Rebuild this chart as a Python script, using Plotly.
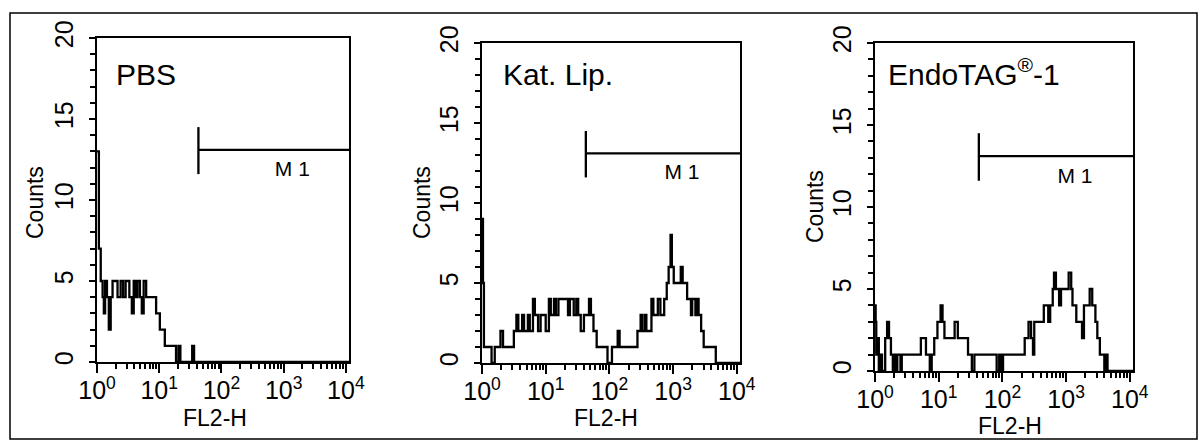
import plotly.graph_objects as go

W, H = 1202, 440

# ---------------- data (x in decades, i.e. log10 of FL2-H; counts) ----------------
pbs_log = [0.00, 0.03, 0.06, 0.09, 0.11, 0.13, 0.16, 0.19, 0.22, 0.25, 0.33, 0.38,
           0.42, 0.46, 0.52, 0.56, 0.59, 0.62, 0.65, 0.69, 0.72, 0.75, 0.79, 0.95,
           1.01, 1.09, 1.27, 1.31, 1.34, 1.53, 1.56, 4.05]
pbs_cnt = [13, 7, 5, 4, 3, 5, 4, 2, 4, 5, 4, 5,
           4, 5, 4, 3, 5, 4, 5, 4, 3, 5, 4, 3,
           2, 1, 0, 1, 0, 1, 0, 0]

kat_log = [0.00, 0.015, 0.03, 0.15, 0.20, 0.29, 0.33, 0.50, 0.54, 0.57, 0.63, 0.66,
           0.72, 0.75, 0.80, 0.83, 0.88, 0.92, 1.00, 1.05, 1.08, 1.13, 1.16, 1.20,
           1.35, 1.38, 1.44, 1.48, 1.51, 1.55, 1.60, 1.68, 1.71, 1.75, 1.80, 1.97,
           2.04, 2.13, 2.16, 2.44, 2.49, 2.52, 2.56, 2.58, 2.66, 2.69, 2.76, 2.80,
           2.86, 2.90, 2.93, 2.96, 2.98, 3.01, 3.12, 3.15, 3.22, 3.28, 3.30, 3.35,
           3.37, 3.40, 3.44, 3.48, 3.67, 4.05]
kat_cnt = [9, 5, 1, 0, 1, 2, 1, 2, 3, 2, 3, 2,
           3, 2, 4, 3, 2, 3, 2, 4, 3, 4, 3, 4,
           3, 4, 3, 4, 3, 2, 3, 4, 3, 2, 1, 0,
           1, 2, 1, 2, 3, 2, 3, 2, 4, 3, 4, 3,
           4, 5, 6, 8, 6, 5, 6, 5, 4, 3, 4, 3,
           4, 3, 2, 1, 0, 0]

endo_log = [0.00, 0.01, 0.02, 0.04, 0.06, 0.09, 0.11, 0.16, 0.19, 0.22, 0.25, 0.28,
            0.30, 0.33, 0.35, 0.40, 0.42, 0.72, 0.80, 0.86, 0.89, 0.93, 0.98, 1.03,
            1.06, 1.09, 1.25, 1.30, 1.46, 1.52, 1.56, 1.91, 1.95, 1.98, 2.01, 2.35,
            2.41, 2.45, 2.48, 2.50, 2.65, 2.72, 2.75, 2.79, 2.81, 2.84, 2.89, 2.92,
            3.04, 3.08, 3.10, 3.16, 3.25, 3.28, 3.37, 3.41, 3.46, 3.49, 3.53, 3.60,
            3.62, 3.65, 4.05]
endo_cnt = [4, 3, 1, 2, 0, 1, 0, 2, 3, 2, 1, 0,
            1, 0, 1, 0, 1, 2, 1, 0, 1, 2, 3, 4,
            3, 2, 3, 2, 1, 0, 1, 0, 1, 0, 1, 2,
            3, 2, 1, 3, 4, 3, 4, 5, 6, 5, 4, 5,
            6, 5, 4, 3, 2, 4, 5, 4, 3, 2, 1, 0,
            1, 0, 0]

panel_titles = ["PBS", "Kat. Lip.", "EndoTAG<sup>®</sup>-1"]
x_tickvals = [1, 10, 100, 1000, 10000]
x_ticktext = ["10<sup>0</sup>", "10<sup>1</sup>", "10<sup>2</sup>", "10<sup>3</sup>", "10<sup>4</sup>"]
y_tickvals = [0, 5, 10, 15, 20]
x_title = "FL2-H"
y_title = "Counts"

gate_start_log = 1.63
gate_level = 13.1
gate_bar_low, gate_bar_high = 11.6, 14.5
gate_label = "M 1"
gate_label_log, gate_label_y = 3.14, 11.8
x_max_log = 4.05

series = [(pbs_log, pbs_cnt), (kat_log, kat_cnt), (endo_log, endo_cnt)]

# ---------------- layout geometry (pixel boxes of the three plot frames) ----------------
boxes = [(97, 349, 38, 362), (482, 740, 43, 363), (875, 1133, 43, 371)]
title_pos = [(114, 74), (501, 75), (886, 72)]
counts_pos = [(35, 203), (422, 203), (815, 207)]
fl2_pos = [(215, 418), (606, 418), (1010, 426)]

def px(x):
    return x / W

def py(y):
    return 1 - y / H

AX_FONT = dict(family="Liberation Sans Narrow, Arial Narrow, sans-serif", size=25, color="black")
LBL_FONT = dict(family="Liberation Sans, Arial, sans-serif", size=23, color="black")

fig = go.Figure()
layout = dict(
    width=W, height=H, margin=dict(l=0, r=0, t=0, b=0, pad=0, autoexpand=False), autosize=False,
    paper_bgcolor="white", plot_bgcolor="white", showlegend=False,
)
annotations = []
shapes = []

for i, ((lg, cnt), (x0, x1, y0, y1)) in enumerate(zip(series, boxes)):
    n = "" if i == 0 else str(i + 1)
    xa, ya = "x" + n, "y" + n
    fig.add_trace(go.Scatter(
        x=[10 ** v for v in lg], y=cnt, mode="lines", line_shape="hv",
        line=dict(color="black", width=2.3), xaxis=xa, yaxis=ya, hoverinfo="skip"))
    # gate M1
    g0 = 10 ** gate_start_log
    g1 = 10 ** x_max_log
    fig.add_trace(go.Scatter(
        x=[g0, g0, None, g0, g1], y=[gate_bar_low, gate_bar_high, None, gate_level, gate_level],
        mode="lines", line=dict(color="black", width=2.3), xaxis=xa, yaxis=ya,
        hoverinfo="skip", cliponaxis=False))
    fig.add_trace(go.Scatter(
        x=[10 ** gate_label_log], y=[gate_label_y], mode="text", text=[gate_label],
        textfont=dict(family="Liberation Sans, Arial, sans-serif", size=21, color="black"),
        textposition="middle center", xaxis=xa, yaxis=ya, hoverinfo="skip"))

    layout["xaxis" + n] = dict(
        domain=[px(x0), px(x1)], anchor=ya, type="log", range=[0, x_max_log],
        tickmode="array", tickvals=x_tickvals, ticktext=x_ticktext,
        ticks="outside", ticklen=9, tickwidth=2, tickcolor="black",
        minor=dict(ticks="outside", ticklen=5, tickwidth=1.5, tickcolor="black", dtick="D1"),
        showline=True, linecolor="black", linewidth=2, mirror=True, automargin=False,
        showgrid=False, zeroline=False, tickfont=AX_FONT, tickangle=0,
        ticklabelstandoff=-4,
    )
    layout["yaxis" + n] = dict(
        domain=[py(y1), py(y0)], anchor=xa, range=[0, 20],
        tickmode="array", tickvals=y_tickvals,
        ticks="outside", ticklen=6, tickwidth=2, tickcolor="black",
        minor=dict(ticks="outside", ticklen=5, tickwidth=1.5, tickcolor="black", dtick=1),
        showline=True, linecolor="black", linewidth=2, mirror=True, automargin=False,
        showgrid=False, zeroline=False, tickfont=AX_FONT, tickangle=-90,
        ticklabelstandoff=6,
    )
    tx, ty = title_pos[i]
    annotations.append(dict(text=panel_titles[i], x=px(tx), y=py(ty), xref="paper", yref="paper",
                            xanchor="left", yanchor="middle", showarrow=False,
                            font=dict(family="Liberation Sans, Arial, sans-serif", size=30, color="black")))
    cx, cy = counts_pos[i]
    annotations.append(dict(text=y_title, x=px(cx), y=py(cy), xref="paper", yref="paper",
                            xanchor="center", yanchor="middle", textangle=-90, showarrow=False,
                            font=LBL_FONT))
    fx, fy = fl2_pos[i]
    annotations.append(dict(text=x_title, x=px(fx), y=py(fy), xref="paper", yref="paper",
                            xanchor="center", yanchor="middle", showarrow=False,
                            font=LBL_FONT))

shapes.append(dict(type="rect", xref="paper", yref="paper", x0=px(10), x1=px(1197),
                   y0=py(439), y1=py(13), line=dict(color="black", width=1.5)))
layout["annotations"] = annotations
layout["shapes"] = shapes
fig.update_layout(**layout)
fig.write_html(
    "out.html",
    config={"responsive": False, "displayModeBar": False},
    post_script="document.body.style.margin='0';document.body.style.overflow='hidden';",
)
